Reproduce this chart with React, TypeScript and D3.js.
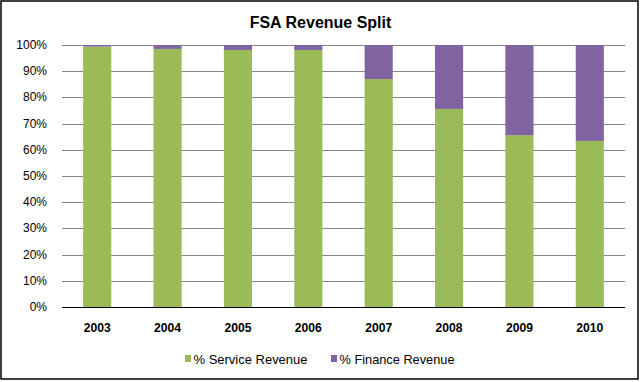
import React from "react";
import * as d3 from "d3";

const years = ["2003", "2004", "2005", "2006", "2007", "2008", "2009", "2010"];
const serviceRevenue = [99.4, 98.5, 98.1, 98.1, 87.0, 75.6, 65.6, 63.4];
const financeRevenue = [0.6, 1.5, 1.9, 1.9, 13.0, 24.4, 34.4, 36.6];
const yTicks = [0, 10, 20, 30, 40, 50, 60, 70, 80, 90, 100];
const seriesNames = ["% Service Revenue", "% Finance Revenue"];
const colors = ["#9BBB59", "#8064A2"];

export default function App() {
  const W = 641, H = 382;
  const left = 62, right = 625, top = 45, bottom = 307;
  const x = d3.scaleBand().domain(years).range([left, right]).paddingInner(0.6).paddingOuter(0.3);
  const y = d3.scaleLinear().domain([0, 100]).range([bottom, top]);
  const font = "Arial, 'Liberation Sans', sans-serif";
  const rows = years.map((yr, i) => ({ year: yr, service: serviceRevenue[i], finance: financeRevenue[i] }));
  const stack = d3.stack<any>().keys(["service", "finance"])(rows);

  return (
    <svg width={W} height={H} style={{ position: "absolute", left: 0, top: 0 }} fontFamily={font}>
      <rect x={0} y={0} width={W} height={H} fill="#fff" />
      <rect x={1} y={1} width={637} height={378} fill="none" stroke="#000" strokeWidth={1.5} />
      <text x={W / 2} y={28} textAnchor="middle" fontSize={16} fontWeight="bold">FSA Revenue Split</text>
      {yTicks.map((t) => (
        <g key={t}>
          <line x1={left} x2={right} y1={Math.round(y(t)) + 0.5} y2={Math.round(y(t)) + 0.5} stroke={t === 0 ? "#000" : "#868686"} strokeWidth={1} />
          <text x={47} y={y(t) + 4} textAnchor="end" fontSize={12}>{t}%</text>
        </g>
      ))}
      {stack.map((s, si) =>
        s.map((d, i) => (
          <rect key={si + "-" + i} x={x(years[i])} width={x.bandwidth()} y={y(d[1])} height={y(d[0]) - y(d[1])} fill={colors[si]} />
        ))
      )}
      {years.map((yr) => (
        <text key={yr} x={(x(yr) as number) + x.bandwidth() / 2} y={332} textAnchor="middle" fontSize={13} fontWeight="bold" textLength={27} lengthAdjust="spacingAndGlyphs">{yr}</text>
      ))}
      {seriesNames.map((n, i) => {
        const lx = [185, 331][i];
        const tw = [114, 115][i];
        return (
          <g key={n}>
            <rect x={lx} y={355} width={6} height={7} fill={colors[i]} />
            <text x={lx + 8.5} y={364} fontSize={13.5} textLength={tw} lengthAdjust="spacingAndGlyphs">{n}</text>
          </g>
        );
      })}
    </svg>
  );
}
